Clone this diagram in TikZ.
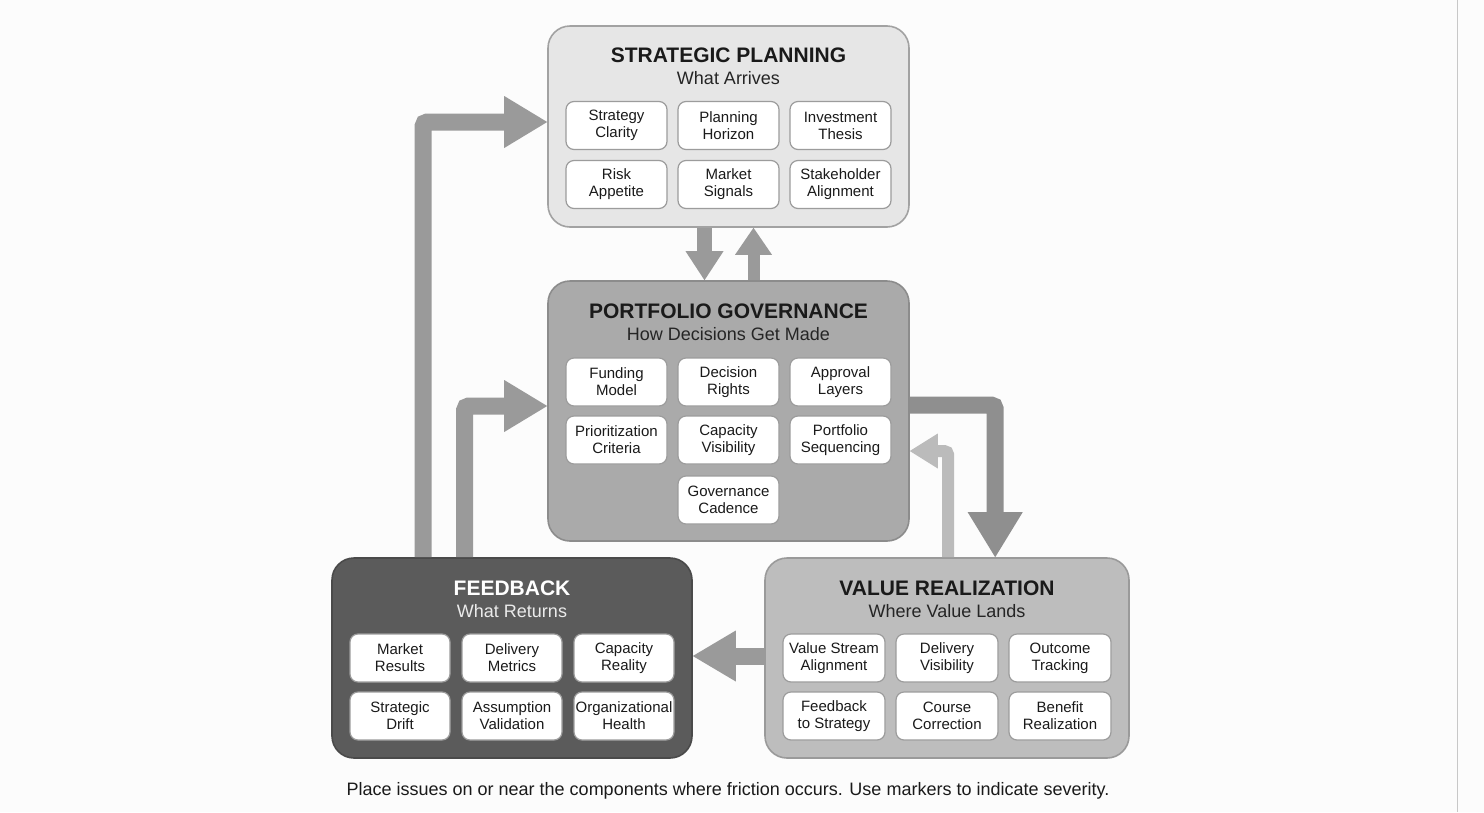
\documentclass[tikz,border=0pt]{standalone}
\usepackage{fontspec}
\setmainfont{Liberation Sans}
\usetikzlibrary{arrows.meta,calc}
\definecolor{bg}{HTML}{FCFCFC}
\definecolor{spfill}{HTML}{E6E6E6}
\definecolor{spdraw}{HTML}{A2A2A2}
\definecolor{pgfill}{HTML}{AAAAAA}
\definecolor{pgdraw}{HTML}{8C8C8C}
\definecolor{fbfill}{HTML}{5B5B5B}
\definecolor{fbdraw}{HTML}{4A4A4A}
\definecolor{vrfill}{HTML}{BDBDBD}
\definecolor{vrdraw}{HTML}{9A9A9A}
\definecolor{itemdraw}{HTML}{9C9C9C}
\definecolor{arrmain}{HTML}{9A9A9A}
\definecolor{arrdark}{HTML}{8F8F8F}
\definecolor{arrlight}{HTML}{BBBBBB}
\definecolor{txt}{HTML}{1A1A1A}
\definecolor{edge}{HTML}{C8C8C8}
\tikzset{
  panel/.style={draw, rounded corners=22pt, line width=1.6pt, inner sep=0pt},
  item/.style={draw=itemdraw, fill=white, rounded corners=8pt, line width=1.2pt,
    minimum width=101pt, minimum height=48pt, inner sep=1pt, align=center,
    text=txt, font=\fontsize{15}{17}\selectfont},
  ptitle/.style={anchor=base, inner sep=0pt, text=txt, font=\fontsize{21}{24}\selectfont\bfseries},
  psub/.style={anchor=base, inner sep=0pt, text=txt!95, font=\fontsize{18}{21}\selectfont},
  bigarrow/.style={line width=#1, rounded corners=4pt},
}
\begin{document}
\begin{tikzpicture}[x=1pt,y=-1pt]
\fill[bg] (0,0) rectangle (1484,812);
\useasboundingbox (0,0) rectangle (1484,812);
\draw[edge, line width=1pt] (1457,0) -- (1457,812);

% ---------- panels ----------
\node[panel, fill=spfill, draw=spdraw, minimum width=361pt, minimum height=201pt] (sp) at (728.5,126.5) {};
\node[panel, fill=pgfill, draw=pgdraw, minimum width=361pt, minimum height=260pt] (pg) at (728.5,411) {};
\node[panel, fill=fbfill, draw=fbdraw, minimum width=360pt, minimum height=200pt] (fb) at (512,658) {};
\node[panel, fill=vrfill, draw=vrdraw, minimum width=364pt, minimum height=200pt] (vr) at (947,658) {};

% ---------- titles ----------
\node[ptitle] (spt) at (728.5,62) {STRATEGIC PLANNING};
\node[psub] (sps) at (728.5,84) {What Arrives};
\node[ptitle] (pgt) at (728.5,318) {PORTFOLIO GOVERNANCE};
\node[psub] (pgs) at (728.5,340) {How Decisions Get Made};
\node[ptitle, text=white] (fbt) at (512,595) {FEEDBACK};
\node[psub, text=white!92!black] (fbs) at (512,617) {What Returns};
\node[ptitle] (vrt) at (947,595) {VALUE REALIZATION};
\node[psub] (vrs) at (947,617) {Where Value Lands};

% ---------- items: strategic planning ----------
\node[item] (sp1) at (616.5,125.5) {Strategy\\Clarity};
\node[item] (sp2) at (728.5,125.5) {Planning\\Horizon};
\node[item] (sp3) at (840.5,125.5) {Investment\\Thesis};
\node[item] (sp4) at (616.5,184.5) {Risk\\Appetite};
\node[item] (sp5) at (728.5,184.5) {Market\\Signals};
\node[item] (sp6) at (840.5,184.5) {Stakeholder\\Alignment};

% ---------- items: portfolio governance ----------
\node[item] (pg1) at (616.5,382) {Funding\\Model};
\node[item] (pg2) at (728.5,382) {Decision\\Rights};
\node[item] (pg3) at (840.5,382) {Approval\\Layers};
\node[item] (pg4) at (616.5,440) {Prioritization\\Criteria};
\node[item] (pg5) at (728.5,440) {Capacity\\Visibility};
\node[item] (pg6) at (840.5,440) {Portfolio\\Sequencing};
\node[item] (pg7) at (728.5,500) {Governance\\Cadence};

% ---------- items: feedback ----------
\node[item, minimum width=100pt] (fb1) at (400,658) {Market\\Results};
\node[item, minimum width=100pt] (fb2) at (512,658) {Delivery\\Metrics};
\node[item, minimum width=100pt] (fb3) at (624,658) {Capacity\\Reality};
\node[item, minimum width=100pt] (fb4) at (400,716) {Strategic\\Drift};
\node[item, minimum width=100pt] (fb5) at (512,716) {Assumption\\Validation};
\node[item, minimum width=100pt] (fb6) at (624,716) {Organizational\\Health};

% ---------- items: value realization ----------
\node[item, minimum width=102pt] (vr1) at (834,658) {Value Stream\\Alignment};
\node[item, minimum width=102pt] (vr2) at (947,658) {Delivery\\Visibility};
\node[item, minimum width=102pt] (vr3) at (1060,658) {Outcome\\Tracking};
\node[item, minimum width=102pt] (vr4) at (834,716) {Feedback\\to Strategy};
\node[item, minimum width=102pt] (vr5) at (947,716) {Course\\Correction};
\node[item, minimum width=102pt] (vr6) at (1060,716) {Benefit\\Realization};

% ---------- arrows ----------
% feedback -> strategic planning
\draw[bigarrow=17pt, arrmain, -{Triangle[length=43pt,width=52pt,line width=0pt]}]
  ($(fb.north west)+(92,0)$) |- ($(sp.west)+(0,-4.5)$);
% feedback -> portfolio governance
\draw[bigarrow=17pt, arrmain, -{Triangle[length=43pt,width=52pt,line width=0pt]}]
  ($(fb.north west)+(133.5,0)$) |- ($(pg.west)+(0,-5)$);
% strategic planning -> portfolio governance
\draw[bigarrow=15pt, arrmain, -{Triangle[length=29pt,width=38pt,line width=0pt]}]
  ($(sp.south)+(-24,0)$) -- ($(pg.north)+(-24,0)$);
% portfolio governance -> strategic planning
\draw[bigarrow=12pt, arrmain, -{Triangle[length=27pt,width=37pt,line width=0pt]}]
  ($(pg.north)+(25,0)$) -- ($(sp.south)+(25,0)$);
% portfolio governance -> value realization
\draw[bigarrow=17pt, arrdark, -{Triangle[length=45pt,width=55pt,line width=0pt]}]
  ($(pg.east)+(0,-6)$) -| ($(vr.north west)+(231,0)$);
% value realization -> portfolio governance
\draw[bigarrow=12pt, arrlight, -{Triangle[length=28pt,width=35pt,line width=0pt]}]
  ($(vr.north west)+(184,0)$) |- ($(pg.east)+(0,40)$);
% value realization -> feedback
\draw[bigarrow=17pt, arrmain, -{Triangle[length=43pt,width=51pt,line width=0pt]}]
  ($(vr.west)+(0,-2)$) -- ($(fb.east)+(0,-2)$);

% ---------- caption ----------
\node[inner sep=0pt, anchor=base, text=txt, font=\fontsize{18}{21}\selectfont] (cap) at (728,795)
  {Place issues on or near the components where friction occurs. Use markers to indicate severity.};
\end{tikzpicture}
\end{document}
